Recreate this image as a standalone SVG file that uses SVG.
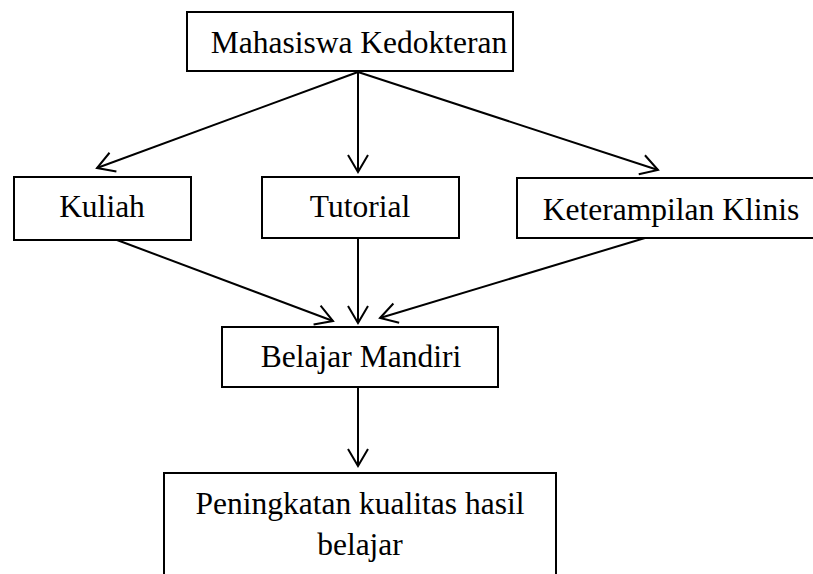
<svg xmlns="http://www.w3.org/2000/svg" width="813" height="574" viewBox="0 0 813 574">
<defs>
<style>
.box{fill:#fff;stroke:#000;stroke-width:2}
.lbl{font-family:"Liberation Serif","Times New Roman",serif;font-size:31.5px;fill:#000;text-anchor:middle}
.con{stroke:#000;stroke-width:2;fill:none;marker-end:url(#ah)}
</style>
<marker id="ah" markerUnits="userSpaceOnUse" viewBox="-20 -12 22 24" refX="0" refY="0" markerWidth="22" markerHeight="24" orient="auto">
<path d="M-17,-10 L0,0 L-17,10" fill="none" stroke="#000" stroke-width="2"/>
</marker>
</defs>
<rect width="813" height="574" fill="#fff"/>
<g id="connectors">
<line class="con" x1="358" y1="72" x2="97" y2="168"/>
<line class="con" x1="358" y1="72" x2="358" y2="172"/>
<line class="con" x1="358" y1="72" x2="658" y2="170"/>
<line class="con" x1="117" y1="240" x2="333" y2="321"/>
<line class="con" x1="358" y1="238" x2="358" y2="323"/>
<line class="con" x1="645" y1="238" x2="380" y2="318"/>
<line class="con" x1="358" y1="387" x2="358" y2="466"/>
</g>
<g id="mahasiswa">
<rect class="box" x="187" y="12" width="326" height="59"/>
<text class="lbl" x="359" y="53">Mahasiswa Kedokteran</text>
</g>
<g id="kuliah">
<rect class="box" x="14" y="177" width="177" height="63"/>
<text class="lbl" x="102" y="217">Kuliah</text>
</g>
<g id="tutorial">
<rect class="box" x="262" y="177" width="197" height="61"/>
<text class="lbl" x="360" y="217">Tutorial</text>
</g>
<g id="keterampilan">
<rect class="box" x="517" y="178" width="300" height="60"/>
<text class="lbl" x="671" y="220">Keterampilan Klinis</text>
</g>
<g id="belajar-mandiri">
<rect class="box" x="222" y="327" width="276" height="60"/>
<text class="lbl" x="361" y="367">Belajar Mandiri</text>
</g>
<g id="peningkatan">
<rect class="box" x="164" y="473" width="392" height="110"/>
<text class="lbl" x="360" y="514">Peningkatan kualitas hasil</text>
<text class="lbl" x="360" y="555">belajar</text>
</g>
</svg>
